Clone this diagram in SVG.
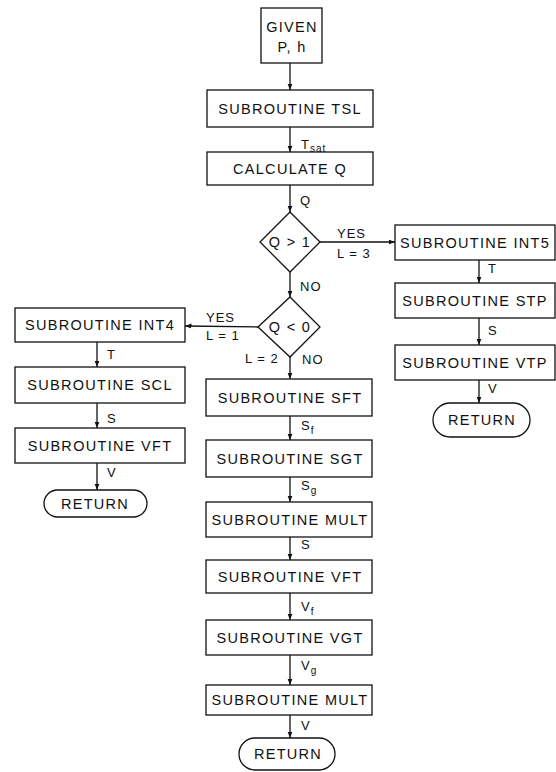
<svg xmlns="http://www.w3.org/2000/svg" width="556" height="772" viewBox="0 0 556 772">
<style>
.box{fill:#fff;stroke:#111;stroke-width:1.3}
.t{font-family:"Liberation Sans",Arial,sans-serif;font-size:14.5px;letter-spacing:1.3px;fill:#111;text-anchor:middle}
.l{font-family:"Liberation Sans",Arial,sans-serif;font-size:13px;letter-spacing:1px;fill:#111}
.sub{font-size:10px}
.c{fill:none;stroke:#111;stroke-width:1.3}
</style>
<defs>
<marker id="ah" markerUnits="userSpaceOnUse" markerWidth="7" markerHeight="6" refX="6.5" refY="2.5" orient="auto">
<path d="M0,0 L6.5,2.5 L0,5 z" fill="#111"/>
</marker>
</defs>
<rect width="556" height="772" fill="#fff"/>
<g id="connectors">
<line class="c" x1="290" y1="63" x2="290" y2="90" marker-end="url(#ah)"/>
<line class="c" x1="290" y1="127" x2="290" y2="152" marker-end="url(#ah)"/>
<line class="c" x1="290" y1="185" x2="290" y2="212" marker-end="url(#ah)"/>
<line class="c" x1="320" y1="242" x2="395" y2="242" marker-end="url(#ah)"/>
<line class="c" x1="290" y1="272" x2="290" y2="297" marker-end="url(#ah)"/>
<line class="c" x1="258" y1="327" x2="185" y2="326" marker-end="url(#ah)"/>
<line class="c" x1="290" y1="357" x2="290" y2="379" marker-end="url(#ah)"/>
<line class="c" x1="290" y1="416" x2="290" y2="440" marker-end="url(#ah)"/>
<line class="c" x1="290" y1="477" x2="290" y2="502" marker-end="url(#ah)"/>
<line class="c" x1="290" y1="537" x2="290" y2="560" marker-end="url(#ah)"/>
<line class="c" x1="290" y1="593" x2="290" y2="620" marker-end="url(#ah)"/>
<line class="c" x1="290" y1="655" x2="290" y2="685" marker-end="url(#ah)"/>
<line class="c" x1="290" y1="715" x2="290" y2="738" marker-end="url(#ah)"/>
<line class="c" x1="97" y1="342" x2="97" y2="367" marker-end="url(#ah)"/>
<line class="c" x1="97" y1="403" x2="97" y2="428" marker-end="url(#ah)"/>
<line class="c" x1="97" y1="463" x2="97" y2="490" marker-end="url(#ah)"/>
<line class="c" x1="479" y1="260" x2="479" y2="283" marker-end="url(#ah)"/>
<line class="c" x1="479" y1="318" x2="479" y2="345" marker-end="url(#ah)"/>
<line class="c" x1="479" y1="380" x2="479" y2="403" marker-end="url(#ah)"/>
<text class="l" x="301" y="149">T<tspan class="sub" dy="3">sat</tspan></text>
<text class="l" x="300" y="205">Q</text>
<text class="l" x="337" y="238">YES</text>
<text class="l" x="337" y="258">L = 3</text>
<text class="l" x="300" y="291">NO</text>
<text class="l" x="206" y="322">YES</text>
<text class="l" x="206" y="340">L = 1</text>
<text class="l" x="245" y="363">L = 2</text>
<text class="l" x="302" y="364">NO</text>
<text class="l" x="301" y="430">S<tspan class="sub" dy="4">f</tspan></text>
<text class="l" x="301" y="490">S<tspan class="sub" dy="4">g</tspan></text>
<text class="l" x="301" y="549">S</text>
<text class="l" x="301" y="611">V<tspan class="sub" dy="4">f</tspan></text>
<text class="l" x="301" y="670">V<tspan class="sub" dy="4">g</tspan></text>
<text class="l" x="301" y="730">V</text>
<text class="l" x="107" y="359">T</text>
<text class="l" x="107" y="423">S</text>
<text class="l" x="107" y="477">V</text>
<text class="l" x="488" y="273">T</text>
<text class="l" x="488" y="335">S</text>
<text class="l" x="488" y="393">V</text>
</g>
<g id="given"><rect class="box" x="261" y="8" width="61" height="55"/><text class="t" x="292" y="32">GIVEN</text><text class="t" x="292" y="52">P, h</text></g>
<g id="tsl"><rect class="box" x="207" y="90" width="166" height="37"/><text class="t" x="290" y="114">SUBROUTINE TSL</text></g>
<g id="calcq"><rect class="box" x="207" y="152" width="166" height="33"/><text class="t" x="290" y="174">CALCULATE Q</text></g>
<g id="d1"><polygon class="box" points="290,212 320,242 290,272 260,242"/><text class="t" x="290" y="247">Q &gt; 1</text></g>
<g id="d2"><polygon class="box" points="290,297 320,327 290,357 258,327"/><text class="t" x="290" y="332">Q &lt; 0</text></g>
<g id="int5"><rect class="box" x="395" y="225" width="160" height="35"/><text class="t" x="475" y="248">SUBROUTINE INT5</text></g>
<g id="stp"><rect class="box" x="395" y="283" width="160" height="35"/><text class="t" x="475" y="306">SUBROUTINE STP</text></g>
<g id="vtp"><rect class="box" x="395" y="345" width="160" height="35"/><text class="t" x="475" y="368">SUBROUTINE VTP</text></g>
<g id="ret_r"><rect class="box" x="433" y="403" width="97" height="34" rx="17"/><text class="t" x="482" y="425">RETURN</text></g>
<g id="int4"><rect class="box" x="15" y="308" width="170" height="34"/><text class="t" x="100" y="330">SUBROUTINE INT4</text></g>
<g id="scl"><rect class="box" x="15" y="367" width="170" height="36"/><text class="t" x="100" y="390">SUBROUTINE SCL</text></g>
<g id="vft_l"><rect class="box" x="15" y="428" width="170" height="35"/><text class="t" x="100" y="451">SUBROUTINE VFT</text></g>
<g id="ret_l"><rect class="box" x="44" y="490" width="103" height="27" rx="13.5"/><text class="t" x="95" y="509">RETURN</text></g>
<g id="sft"><rect class="box" x="206" y="379" width="166" height="37"/><text class="t" x="290" y="403">SUBROUTINE SFT</text></g>
<g id="sgt"><rect class="box" x="206" y="440" width="166" height="37"/><text class="t" x="290" y="464">SUBROUTINE SGT</text></g>
<g id="mult1"><rect class="box" x="206" y="502" width="166" height="35"/><text class="t" x="290" y="525">SUBROUTINE MULT</text></g>
<g id="vft"><rect class="box" x="206" y="560" width="166" height="33"/><text class="t" x="290" y="582">SUBROUTINE VFT</text></g>
<g id="vgt"><rect class="box" x="206" y="620" width="166" height="35"/><text class="t" x="290" y="643">SUBROUTINE VGT</text></g>
<g id="mult2"><rect class="box" x="206" y="685" width="166" height="30"/><text class="t" x="290" y="705">SUBROUTINE MULT</text></g>
<g id="ret_m"><rect class="box" x="239" y="738" width="96" height="32" rx="16"/><text class="t" x="288" y="759">RETURN</text></g>
</svg>
